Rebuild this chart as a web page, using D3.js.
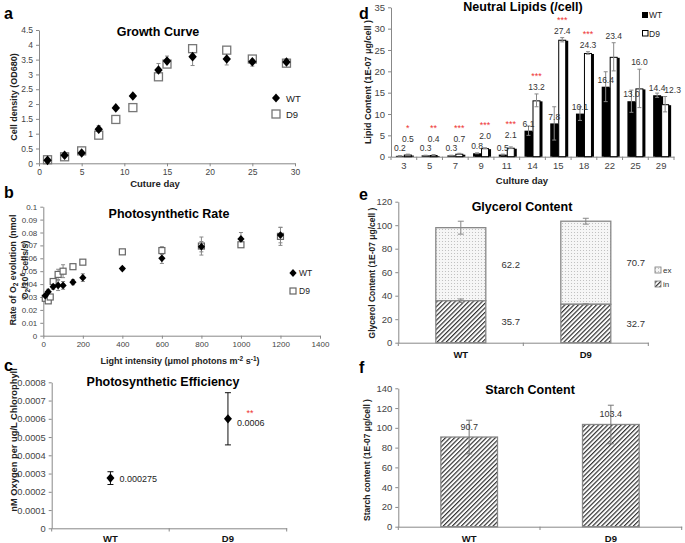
<!DOCTYPE html>
<html><head><meta charset="utf-8">
<script src="https://cdn.jsdelivr.net/npm/d3@7"></script>
<style>body{margin:0;background:#fff}svg{display:block}text{font-family:"Liberation Sans",Arial,sans-serif}</style>
</head><body><svg id="c" width="685" height="543"></svg>
<script>
// ---------- DATA ----------
// a: growth curve
const growthDays = [1,3,5,7,9,11,14,15,18,22,25,29];
const growthWT   = [0.10,0.27,0.35,1.15,1.87,2.27,3.15,3.45,3.60,3.52,3.43,3.42];
const growthWTerr= [0.05,0.05,0.05,0.12,0.05,0.05,0.22,0.17,0.30,0.20,0.15,0.10];
const growthD9   = [0.12,0.22,0.42,0.95,1.48,1.88,2.92,3.35,3.87,3.82,3.52,3.38];
const growthD9err= [0.03,0.03,0.05,0.05,0.05,0.05,0.05,0.10,0.05,0.05,0.05,0.12];
const growthXTicks = [0,5,10,15,20,25,30];
const growthYTicks = [0,0.5,1,1.5,2,2.5,3,3.5,4,4.5];
// b: photosynthetic rate
const lightWT  = [10,25,50,75,100,150,200,400,600,800,1000,1200];
const rateWT   = [0.031,0.034,0.038,0.039,0.039,0.0415,0.045,0.052,0.060,0.069,0.075,0.078];
const rateWTerr= [0.001,0.002,0.002,0.004,0.003,0.002,0.003,0.001,0.004,0.004,0.005,0.006];
const lightD9  = [10,25,35,50,75,100,150,200,400,600,800,1000,1200];
const rateD9   = [0.029,0.027,0.030,0.042,0.0475,0.050,0.0535,0.057,0.065,0.066,0.0695,0.0705,0.077];
const rateD9err= [0.001,0.001,0.001,0.002,0.004,0.005,0.001,0.001,0.001,0.003,0.007,0.001,0.007];
const rateXTicks = [0,200,400,600,800,1000,1200,1400];
const rateYTicks = [0,0.01,0.02,0.03,0.04,0.05,0.06,0.07,0.08,0.09,0.1];
// c: photosynthetic efficiency
const strains = ["WT","D9"];
const effVal = [0.000275,0.0006];
const effErr = [0.000035,0.000143];
const effLabels = ["0.000275","0.0006"];
const effSig = ["","**"];
const effYTicks = [0,0.0001,0.0002,0.0003,0.0004,0.0005,0.0006,0.0007,0.0008];
// d: neutral lipids
const lipidDays = ["3","5","7","9","11","14","15","18","22","25","29"];
const lipidWT    = [0.2,0.3,0.3,0.8,0.5,6.1,7.8,10.1,16.4,13.0,14.4];
const lipidWTerr = [0.05,0.05,0.05,0.1,0.1,1.1,3.9,1.6,3.5,2.6,0.5];
const lipidD9    = [0.5,0.4,0.7,2.0,2.1,13.2,27.4,24.3,23.4,16.0,12.3];
const lipidD9err = [0.1,0.1,0.1,0.1,0.2,1.5,0.5,0.3,3.3,4.5,1.8];
const lipidSig   = ["*","**","***","***","***","***","***","***","","",""];
const lipidYTicks = [0,5,10,15,20,25,30,35];
// e: glycerol
const glyIn  = [35.7,32.7];
const glyInErr = [1.5,0.5];
const glyEx  = [62.2,70.7];
const glyTotErr = [5.5,2.5];
const glyYTicks = [0,20,40,60,80,100,120];
// f: starch
const starch = [90.7,103.4];
const starchErr = [17,19.5];
const starchYTicks = [0,20,40,60,80,100,120,140];

// ---------- DRAW ----------
const svg = d3.select('#c');
const defs = svg.append('defs');
const hatch = defs.append('pattern').attr('id','hatch').attr('patternUnits','userSpaceOnUse')
  .attr('width',3.2).attr('height',3.2).attr('patternTransform','rotate(45)');
hatch.append('rect').attr('width',3.2).attr('height',3.2).attr('fill','#fff');
hatch.append('line').attr('x1',0.6).attr('y1',0).attr('x2',0.6).attr('y2',3.2).attr('stroke','#333').attr('stroke-width',1.2);
const dots = defs.append('pattern').attr('id','dots').attr('patternUnits','userSpaceOnUse').attr('width',3).attr('height',3);
dots.append('rect').attr('width',3).attr('height',3).attr('fill','#f6f6f6');
dots.append('circle').attr('cx',1.5).attr('cy',1.5).attr('r',0.55).attr('fill','#b8b8b8');

const diamond = (hw,hh)=>({draw(ctx){ctx.moveTo(0,-hh);ctx.lineTo(hw,0);ctx.lineTo(0,hh);ctx.lineTo(-hw,0);ctx.closePath();}});

function styleAxis(g, fs){
  g.attr('font-family','"Liberation Sans",Arial,sans-serif').attr('font-size',fs||9);
  g.select('.domain').attr('stroke','#888');
  g.selectAll('.tick line').attr('stroke','#888');
  g.selectAll('.tick text').attr('fill','#444');
}
function text(x,y,s,o={}){
  const t = svg.append('text').attr('x',x).attr('y',y).text(s)
    .attr('font-size',o.fs||10).attr('font-weight',o.bold?'bold':'normal')
    .attr('fill',o.fill||'#000').attr('text-anchor',o.anchor||'middle');
  if(o.rot) t.attr('transform',`rotate(-90,${x},${y})`);
  return t;
}
function errBar(g,x,y0,y1,cap,color,sw){
  g.append('line').attr('x1',x).attr('x2',x).attr('y1',y0).attr('y2',y1).attr('stroke',color).attr('stroke-width',sw||1);
  [y0,y1].forEach(yy=>g.append('line').attr('x1',x-cap).attr('x2',x+cap).attr('y1',yy).attr('y2',yy).attr('stroke',color).attr('stroke-width',sw||1));
}
const fmt = d3.format('~g');

// ===== a =====
{
  const x = d3.scaleLinear().domain([0,30]).range([39,295]);
  const y = d3.scaleLinear().domain([0,4.5]).range([163.3,30]);
  styleAxis(svg.append('g').attr('transform','translate(39,0)')
    .call(d3.axisLeft(y).tickValues(growthYTicks).tickFormat(fmt).tickSize(3).tickSizeOuter(0).tickPadding(3)), 8.5);
  styleAxis(svg.append('g').attr('transform','translate(0,163.3)')
    .call(d3.axisBottom(x).tickValues(growthXTicks).tickFormat(fmt).tickSize(3).tickSizeOuter(0).tickPadding(3)), 8.5);
  const g = svg.append('g');
  growthDays.forEach((d,i)=>errBar(g,x(d),y(growthD9[i]-growthD9err[i]),y(growthD9[i]+growthD9err[i]),2,'#888'));
  growthDays.forEach((d,i)=>errBar(g,x(d),y(growthWT[i]-growthWTerr[i]),y(growthWT[i]+growthWTerr[i]),2,'#888'));
  g.selectAll('.sq').data(growthDays).join('rect').attr('x',d=>x(d)-4).attr('y',(d,i)=>y(growthD9[i])-4)
    .attr('width',8).attr('height',8).attr('fill','#fff').attr('stroke','#777').attr('stroke-width',1.3);
  g.selectAll('.dm').data(growthDays).join('path').attr('transform',(d,i)=>`translate(${x(d)},${y(growthWT[i])})`)
    .attr('d',d3.symbol().type(diamond(4.2,4.8))).attr('fill','#000');
  text(158,36,'Growth Curve',{fs:12.5,bold:true});
  text(16.5,97,'Cell density  (OD680)',{fs:9,bold:true,rot:true,fill:'#222'});
  text(155,187,'Cuture day',{fs:9.5,bold:true,fill:'#222'});
  text(4,19,'a',{fs:16,bold:true,anchor:'start'});
  g.append('path').attr('transform','translate(276,98)').attr('d',d3.symbol().type(diamond(4,4.6))).attr('fill','#000');
  g.append('rect').attr('x',272).attr('y',110).attr('width',8).attr('height',8).attr('fill','#fff').attr('stroke','#777').attr('stroke-width',1.3);
  text(286,101.5,'WT',{fs:9.5,anchor:'start',fill:'#222'});
  text(286,117.5,'D9',{fs:9.5,anchor:'start',fill:'#222'});
}

// ===== b =====
{
  const x = d3.scaleLinear().domain([0,1400]).range([43.3,320]);
  const y = d3.scaleLinear().domain([0,0.1]).range([335.7,206.7]);
  styleAxis(svg.append('g').attr('transform','translate(43.3,0)')
    .call(d3.axisLeft(y).tickValues(rateYTicks).tickFormat(fmt).tickSize(3).tickSizeOuter(0).tickPadding(3)), 8);
  styleAxis(svg.append('g').attr('transform','translate(0,335.7)')
    .call(d3.axisBottom(x).tickValues(rateXTicks).tickFormat(fmt).tickSize(3).tickSizeOuter(0).tickPadding(3)), 8);
  const g = svg.append('g');
  lightD9.forEach((d,i)=>errBar(g,x(d),y(rateD9[i]-rateD9err[i]),y(rateD9[i]+rateD9err[i]),2,'#888'));
  lightWT.forEach((d,i)=>errBar(g,x(d),y(rateWT[i]-rateWTerr[i]),y(rateWT[i]+rateWTerr[i]),2,'#888'));
  g.selectAll('.sq').data(lightD9).join('rect').attr('x',d=>x(d)-3).attr('y',(d,i)=>y(rateD9[i])-3)
    .attr('width',6).attr('height',6).attr('fill','#fff').attr('stroke','#666').attr('stroke-width',1.2);
  g.selectAll('.dm').data(lightWT).join('path').attr('transform',(d,i)=>`translate(${x(d)},${y(rateWT[i])})`)
    .attr('d',d3.symbol().type(diamond(3.6,3.9))).attr('fill','#000');
  text(169,218,'Photosynthetic Rate',{fs:12.5,bold:true});
  const yl = svg.append('text').attr('transform','translate(15.5,270) rotate(-90)').attr('text-anchor','middle')
    .attr('font-size',8.8).attr('font-weight','bold').attr('fill','#222');
  yl.append('tspan').text('Rate of O');
  yl.append('tspan').text('2').attr('font-size',6.5).attr('dy',2);
  yl.append('tspan').text(' evolution (nmol').attr('dy',-2);
  const yl2 = svg.append('text').attr('transform','translate(27.5,270) rotate(-90)').attr('text-anchor','middle')
    .attr('font-size',8.8).attr('font-weight','bold').attr('fill','#222');
  yl2.append('tspan').text('O');
  yl2.append('tspan').text('2').attr('font-size',6.5).attr('dy',2);
  yl2.append('tspan').text('/10').attr('dy',-2);
  yl2.append('tspan').text('6').attr('font-size',6.5).attr('dy',-3);
  yl2.append('tspan').text(' cells/s)').attr('dy',3);
  const xl = svg.append('text').attr('x',180).attr('y',364).attr('text-anchor','middle')
    .attr('font-size',9).attr('font-weight','bold').attr('fill','#222');
  xl.append('tspan').text('Light intensity (μmol photons m');
  xl.append('tspan').text('-2').attr('font-size',6.5).attr('dy',-3);
  xl.append('tspan').text(' s').attr('dy',3);
  xl.append('tspan').text('-1').attr('font-size',6.5).attr('dy',-3);
  xl.append('tspan').text(')').attr('dy',3);
  text(4,198,'b',{fs:16,bold:true,anchor:'start'});
  g.append('path').attr('transform','translate(293,273)').attr('d',d3.symbol().type(diamond(3.6,3.9))).attr('fill','#000');
  g.append('rect').attr('x',290).attr('y',288).attr('width',6).attr('height',6).attr('fill','#fff').attr('stroke','#666').attr('stroke-width',1.2);
  text(299,276,'WT',{fs:8.5,anchor:'start',fill:'#222'});
  text(299,294,'D9',{fs:8.5,anchor:'start',fill:'#222'});
}

// ===== c =====
{
  const x = d3.scaleBand().domain(strains).range([51.7,286.7]);
  const y = d3.scaleLinear().domain([0,0.0008]).range([528.3,382.3]);
  styleAxis(svg.append('g').attr('transform','translate(51.7,0)')
    .call(d3.axisLeft(y).tickValues(effYTicks).tickFormat(fmt).tickSize(3).tickSizeOuter(0).tickPadding(3)), 9.3);
  const ax = svg.append('g').attr('transform','translate(0,528.3)')
    .call(d3.axisBottom(x).tickSize(0).tickSizeOuter(0).tickFormat(''));
  styleAxis(ax);
  const bnd = strains.map(s=>x(s)).concat([x.range()[1]]);
  svg.append('g').selectAll('line').data(bnd).join('line').attr('x1',d=>d).attr('x2',d=>d)
    .attr('y1',528.3).attr('y2',531.5).attr('stroke','#888');
  const g = svg.append('g');
  strains.forEach((s,i)=>{
    const cx = x(s)+x.bandwidth()/2;
    errBar(g,cx,y(effVal[i]-effErr[i]),y(effVal[i]+effErr[i]),3,'#111');
    g.append('path').attr('transform',`translate(${cx},${y(effVal[i])})`).attr('d',d3.symbol().type(diamond(4,4.6))).attr('fill','#000');
    text(cx+9,y(effVal[i])+(effSig[i]?7.5:3.5),effLabels[i],{fs:9,anchor:'start',fill:'#222'});
    if(effSig[i]) text(cx+22,y(effVal[i])-3,effSig[i],{fs:9,fill:'#e33'});
    text(cx,542,s,{fs:9.5,bold:true,fill:'#111'});
  });
  text(163,386,'Photosynthetic Efficiency',{fs:12.5,bold:true});
  text(16.5,440,'nM Oxygen per ug/L Chlorophyll',{fs:9.3,bold:true,rot:true,fill:'#222'});
  text(4,371,'c',{fs:16,bold:true,anchor:'start'});
}

// ===== d =====
{
  const x = d3.scaleBand().domain(lipidDays).range([391,674]);
  const y = d3.scaleLinear().domain([0,35]).range([156.7,7.3]);
  styleAxis(svg.append('g').attr('transform','translate(391,0)')
    .call(d3.axisLeft(y).tickValues(lipidYTicks).tickFormat(fmt).tickSize(3).tickSizeOuter(0).tickPadding(3)), 9.5);
  const ax = svg.append('g').attr('transform','translate(0,156.7)')
    .call(d3.axisBottom(x).tickSize(0).tickSizeOuter(0).tickPadding(6));
  styleAxis(ax, 9.5);
  const bnd = lipidDays.map(s=>x(s)).concat([x.range()[1]]);
  svg.append('g').selectAll('line').data(bnd).join('line').attr('x1',d=>d).attr('x2',d=>d)
    .attr('y1',156.7).attr('y2',160).attr('stroke','#888');
  const g = svg.append('g');
  const bw = 8;
  lipidDays.forEach((d,i)=>{
    const c = x(d)+x.bandwidth()/2;
    g.append('rect').attr('x',c-bw+2).attr('y',y(lipidWT[i])+1).attr('width',bw).attr('height',y(0)-y(lipidWT[i])-1).attr('fill','#000');
    g.append('rect').attr('x',c+2).attr('y',y(lipidD9[i])+1).attr('width',bw).attr('height',y(0)-y(lipidD9[i])-1).attr('fill','#000');
    g.append('rect').attr('x',c-bw).attr('y',y(lipidWT[i])).attr('width',bw).attr('height',y(0)-y(lipidWT[i])).attr('fill','#000');
    g.append('rect').attr('x',c+0.5).attr('y',y(lipidD9[i])+0.5).attr('width',bw-1).attr('height',Math.max(0,y(0)-y(lipidD9[i])-0.5))
      .attr('fill','#fff').attr('stroke','#000').attr('stroke-width',1);
  });
  lipidDays.forEach((d,i)=>{
    const c = x(d)+x.bandwidth()/2;
    errBar(g,c-bw/2,y(lipidWT[i]-lipidWTerr[i]),y(lipidWT[i]+lipidWTerr[i]),2,'#888');
    errBar(g,c+bw/2,y(lipidD9[i]-lipidD9err[i]),y(lipidD9[i]+lipidD9err[i]),2,'#888');
    const wy = Math.min(y(lipidWT[i])-7,148);
    let dy = y(lipidD9[i]+lipidD9err[i]) - (lipidD9[i] < 3 ? 12 : 7);
    if (lipidD9[i] < 3) dy = Math.min(dy, wy - 9);
    text(c-bw/2,wy+3.2,lipidWT[i].toFixed(1),{fs:8.5,fill:'#333'});
    text(c+bw/2+(i===10?7.5:0),dy+3.2,lipidD9[i].toFixed(1),{fs:8.5,fill:'#333'});
    if(lipidSig[i]) text(c+bw/2,dy-12+4,lipidSig[i],{fs:9,fill:'#e33'});
  });
  text(523,11,'Neutral Lipids (/cell)',{fs:12.5,bold:true});
  text(370.5,82,'Lipid Content (1E-07 μg/cell )',{fs:9,bold:true,rot:true,fill:'#222'});
  text(522,184,'Culture day',{fs:9.5,bold:true,fill:'#222'});
  text(359,19,'d',{fs:16,bold:true,anchor:'start'});
  g.append('rect').attr('x',642).attr('y',12).attr('width',6).attr('height',6).attr('fill','#000');
  g.append('rect').attr('x',642.5).attr('y',30.5).attr('width',5.5).attr('height',5.5).attr('fill','#fff').attr('stroke','#000');
  text(649,18,'WT',{fs:8.5,anchor:'start',fill:'#222'});
  text(649,36.5,'D9',{fs:8.5,anchor:'start',fill:'#222'});
}

// ===== e =====
{
  const x = d3.scaleBand().domain(strains).range([398.3,648.3]);
  const y = d3.scaleLinear().domain([0,120]).range([342.7,201.7]);
  styleAxis(svg.append('g').attr('transform','translate(398.3,0)')
    .call(d3.axisLeft(y).tickValues(glyYTicks).tickFormat(fmt).tickSize(3).tickSizeOuter(0).tickPadding(3)), 9.5);
  styleAxis(svg.append('g').attr('transform','translate(0,342.7)')
    .call(d3.axisBottom(x).tickSize(0).tickSizeOuter(0).tickFormat('')));
  const bnd = strains.map(s=>x(s)).concat([x.range()[1]]);
  svg.append('g').selectAll('line').data(bnd).join('line').attr('x1',d=>d).attr('x2',d=>d)
    .attr('y1',342.7).attr('y2',346).attr('stroke','#888');
  const g = svg.append('g');
  const bw = 50;
  strains.forEach((s,i)=>{
    const c = x(s)+x.bandwidth()/2;
    const tot = glyIn[i]+glyEx[i];
    g.append('rect').attr('x',c-bw/2).attr('y',y(tot)).attr('width',bw).attr('height',y(glyIn[i])-y(tot))
      .attr('fill','url(#dots)').attr('stroke','#888').attr('stroke-width',1.3);
    g.append('rect').attr('x',c-bw/2).attr('y',y(glyIn[i])).attr('width',bw).attr('height',y(0)-y(glyIn[i]))
      .attr('fill','url(#hatch)').attr('stroke','#888').attr('stroke-width',1.3);
    errBar(g,c,y(tot-glyTotErr[i]),y(tot+glyTotErr[i]),3,'#888');
    errBar(g,c,y(glyIn[i]-glyInErr[i]),y(glyIn[i]+glyInErr[i]),3,'#888');
    text(c+bw/2+25,y(glyIn[i]+glyEx[i]/2)+3.5,glyEx[i].toFixed(1),{fs:9.5,fill:'#333'});
    text(c+bw/2+25,y(glyIn[i]/2)+3.5,glyIn[i].toFixed(1),{fs:9.5,fill:'#333'});
    text(c,357.5,s,{fs:9.5,bold:true,fill:'#111'});
  });
  text(522,211,'Glycerol Content',{fs:12.5,bold:true});
  text(375,273,'Glycerol Content (1E-07 μg/cell )',{fs:8.5,bold:true,rot:true,fill:'#222'});
  text(359,200,'e',{fs:16,bold:true,anchor:'start'});
  g.append('rect').attr('x',655).attr('y',267).attr('width',6).attr('height',6).attr('fill','url(#dots)').attr('stroke','#777').attr('stroke-width',0.8);
  g.append('rect').attr('x',655).attr('y',281).attr('width',6).attr('height',6).attr('fill','url(#hatch)').attr('stroke','#777').attr('stroke-width',0.8);
  text(663,273,'ex',{fs:8,anchor:'start',fill:'#333'});
  text(663,287,'in',{fs:8,anchor:'start',fill:'#333'});
}

// ===== f =====
{
  const x = d3.scaleBand().domain(strains).range([398.3,681.7]);
  const y = d3.scaleLinear().domain([0,140]).range([526.7,388.3]);
  styleAxis(svg.append('g').attr('transform','translate(398.3,0)')
    .call(d3.axisLeft(y).tickValues(starchYTicks).tickFormat(fmt).tickSize(3).tickSizeOuter(0).tickPadding(3)), 9.5);
  styleAxis(svg.append('g').attr('transform','translate(0,526.7)')
    .call(d3.axisBottom(x).tickSize(0).tickSizeOuter(0).tickFormat('')));
  const bnd = strains.map(s=>x(s)).concat([x.range()[1]]);
  svg.append('g').selectAll('line').data(bnd).join('line').attr('x1',d=>d).attr('x2',d=>d)
    .attr('y1',526.7).attr('y2',530).attr('stroke','#888');
  const g = svg.append('g');
  const bw = x.bandwidth()*0.4;
  strains.forEach((s,i)=>{
    const c = x(s)+x.bandwidth()/2;
    g.append('rect').attr('x',c-bw/2).attr('y',y(starch[i])).attr('width',bw).attr('height',y(0)-y(starch[i]))
      .attr('fill','url(#hatch)').attr('stroke','#888').attr('stroke-width',1.3);
    errBar(g,c,y(starch[i]-starchErr[i]),y(starch[i]+starchErr[i]),3,'#777');
    text(c,y(starch[i])-7,starch[i].toFixed(1),{fs:9,fill:'#333'});
    text(c,541.5,s,{fs:9.5,bold:true,fill:'#111'});
  });
  text(530,393.5,'Starch Content',{fs:12.5,bold:true});
  text(369.5,460,'Starch content (1E-07 μg/cell )',{fs:8.5,bold:true,rot:true,fill:'#222'});
  text(359,373,'f',{fs:16,bold:true,anchor:'start'});
}
</script></body></html>
